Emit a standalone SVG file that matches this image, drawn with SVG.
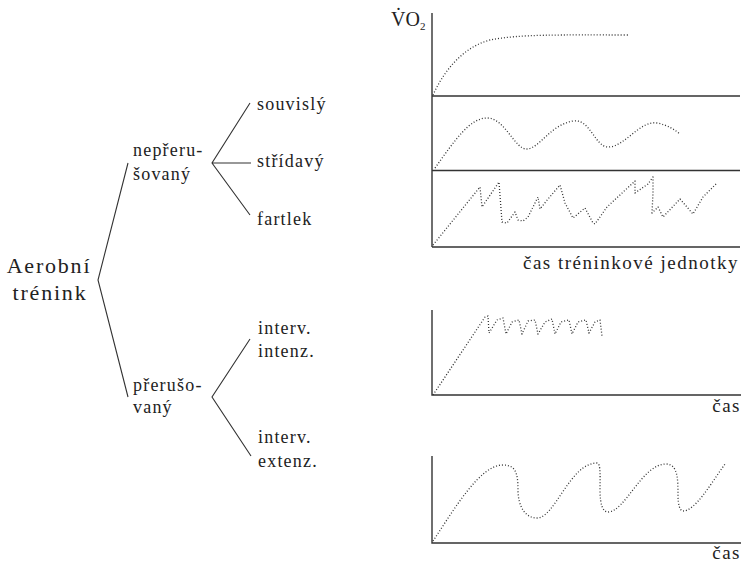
<svg xmlns="http://www.w3.org/2000/svg" width="741" height="562" viewBox="0 0 741 562">
<style>
text{font-family:"Times New Roman","Liberation Serif",Times,serif;fill:#222}
.lbl{font-size:18px;letter-spacing:1.2px}
.big{font-size:22px;letter-spacing:1.8px}
.ax{font-size:19px;letter-spacing:1.5px}
.ln{stroke:#333;stroke-width:1.1;fill:none}
.axis{stroke:#333;stroke-width:1.4;fill:none}
.dot{stroke:#333;stroke-width:1.3;fill:none;stroke-dasharray:1 2;stroke-linejoin:round}
</style>
<rect width="741" height="562" fill="#fff"/>
<g id="connectors">
<path class="ln" d="M128,163 L98,280 L128,397"/>
<path class="ln" d="M250,103 L212,163 L250,215 M212,163 L251,163"/>
<path class="ln" d="M250,339 L212,397 L251,456"/>
</g>
<g id="root"><text class="big" x="49" y="273" text-anchor="middle">Aerobní</text><text class="big" x="50" y="300" text-anchor="middle">trénink</text></g>
<g id="neprerusovany"><text class="lbl" x="133" y="156">nepřeru-</text><text class="lbl" x="133" y="180">šovaný</text></g>
<g id="prerusovany"><text class="lbl" x="133" y="391">přerušo-</text><text class="lbl" x="133" y="413">vaný</text></g>
<g id="souvisly"><text class="lbl" x="257" y="110">souvislý</text></g>
<g id="stridavy"><text class="lbl" x="257" y="167">střídavý</text></g>
<g id="fartlek"><text class="lbl" x="257" y="225">fartlek</text></g>
<g id="intenz"><text class="lbl" x="258" y="334">interv.</text><text class="lbl" x="258" y="357">intenz.</text></g>
<g id="extenz"><text class="lbl" x="258" y="443">interv.</text><text class="lbl" x="258" y="467">extenz.</text></g>
<g id="chart1">
<text x="391" y="26" style="font-size:20px">V̇O<tspan style="font-size:11px" dy="4">2</tspan></text>
<path class="axis" d="M432,13 V247 M432,96 H740 M432,170.5 H740 M432,247 H740"/>
<path class="dot" d="M433,95 C 442,75 460,48 490,40 C 520,34 560,35 629,35"/>
<path class="dot" d="M435,168 C 455,140 470,118 487,118 C 505,118 515,150 527,149 C 540,148 550,125 573,121 C 590,118 595,147 608,147 C 625,147 640,120 657,123 C 668,125 675,130 680,134"/>
<polyline class="dot" points="433,245 480,187 482,207 499,182 502,222 507,223 515,212 518,220 523,221 528,217 538,197 540,209 548,199 560,185 565,203 573,218 585,208 593,223 595,224 607,207 635,181 635,193 648,184 653,177 653,193 652,213 658,207 663,217 680,199 693,214 703,197 717,183"/>
<text class="ax" x="739" y="269" text-anchor="end">čas tréninkové jednotky</text>
</g>
<g id="chart2">
<path class="axis" d="M432,310 V395 H741"/>
<polyline class="dot" points="433,395 485,317 488,316 489,333 497,320 503,318 506,334 512,322 519,320 522,334 528,321 535,320 538,334 545,322 552,319 555,334 561,322 569,320 572,334 578,322 586,320 589,333 595,322 600,320 602,336"/>
<text class="ax" x="741" y="412" text-anchor="end">čas</text>
</g>
<g id="chart3">
<path class="axis" d="M432,456 V543 H741"/>
<path class="dot" d="M433,541 C 455,508 480,465 503,465 C 515,465 518,472 518,490 C 518,506 525,518 537,518 C 555,518 570,463 597,463 C 601,463 600,478 600,490 C 600,505 603,512 608,512 C 625,512 642,464 666,464 C 678,464 678,480 678,495 C 678,505 680,511 683,511 C 695,511 710,485 725,464"/>
<text class="ax" x="741" y="559" text-anchor="end">čas</text>
</g>
</svg>
